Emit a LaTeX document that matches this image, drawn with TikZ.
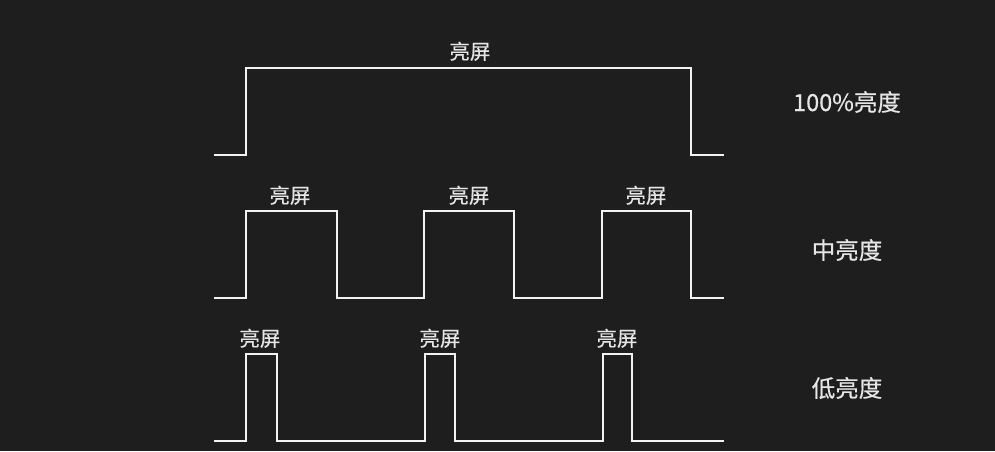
\documentclass[tikz,border=0pt]{standalone}
\usepackage{fontspec}
\setmainfont{Noto Sans CJK SC}[FakeBold=0.45]
\usetikzlibrary{positioning}
\definecolor{bgdark}{HTML}{1E1E1E}
\definecolor{wavewhite}{HTML}{F2F2F2}
\definecolor{textwhite}{HTML}{E6E6E6}

\begin{document}
\begin{tikzpicture}[x=1pt,y=-1pt,
    wave/.style={draw=wavewhite,line width=2.8pt,line join=miter},
    lbl/.style={text=textwhite,font=\fontsize{20.5}{22}\selectfont,inner sep=0pt},
    level/.style={text=textwhite,font=\fontsize{23.5}{26}\selectfont,inner sep=0pt}]
  \useasboundingbox[fill=bgdark] (0,0) rectangle (995,451);
  \def\xs{214}   % start of baseline
  \def\xe{724}   % end of baseline

  % ---------- 100% brightness ----------
  \draw[wave] (\xs,155) -- (246,155) -- (246,68) -- (691,68) -- (691,155) -- (\xe,155);
  \coordinate (ptop) at (470,68);
  \node[lbl,above=7pt of ptop] (lfull) {亮屏};
  \node[level] (full) at (847,102) {100\%亮度};

  % ---------- medium brightness ----------
  \draw[wave] (\xs,298) foreach \s/\e in {246/337,424/514,602/691}{
      -- (\s,298) -- (\s,211) -- (\e,211) -- (\e,298)} -- (\xe,298);
  \foreach \i/\c in {1/290,2/469,3/646}{
    \coordinate (pm\i) at (\c,211);
    \node[lbl,above=6pt of pm\i] (lm\i) {亮屏};
  }
  \node[level] (medium) at (847,250) {中亮度};

  % ---------- low brightness ----------
  \draw[wave] (\xs,441) foreach \s/\e in {246/277,425/455,603/632}{
      -- (\s,441) -- (\s,354) -- (\e,354) -- (\e,441)} -- (\xe,441);
  \foreach \i/\c in {1/260,2/440,3/617}{
    \coordinate (pl\i) at (\c,354);
    \node[lbl,above=6pt of pl\i] (ll\i) {亮屏};
  }
  \node[level] (low) at (847,388) {低亮度};
\end{tikzpicture}
\end{document}
